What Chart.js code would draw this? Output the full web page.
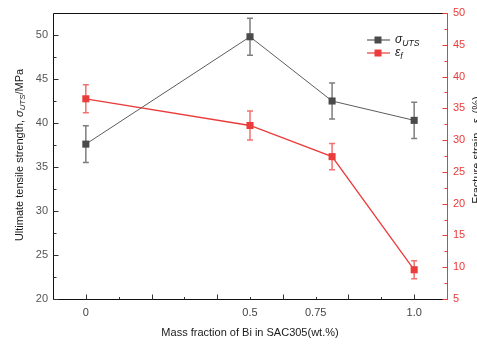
<!DOCTYPE html>
<html lang="en">
<head>
<meta charset="UTF-8">
<title>UTS and fracture strain vs Bi content</title>
<script src="https://cdn.jsdelivr.net/npm/chart.js@4"></script>
<style>
  html, body { margin: 0; padding: 0; background: #fff; }
</style>
</head>
<body>
<canvas id="chart" width="477" height="345"></canvas>
<script>
// data
const massFraction = [0, 0.5, 0.75, 1.0];
const utsMean = [37.6, 49.8, 42.5, 40.3];
const utsErr = [2.1, 2.1, 2.05, 2.05];
const strainMean = [36.5, 32.3, 27.4, 9.6];
const strainErr = [2.2, 2.3, 2.05, 1.4];

// axis ticks
const xTickValues = [0, 0.5, 0.7, 1.0];
const xTickLabels = ['0', '0.5', '0.75', '1.0'];
const xMajor = [0, 0.2, 0.4, 0.6, 0.8, 1.0];
const xMinor = [0.1, 0.3, 0.5, 0.7, 0.9];
const utsTicks = [20, 25, 30, 35, 40, 45, 50];
const utsMinor = [22.5, 27.5, 32.5, 37.5, 42.5, 47.5];
const strainTicks = [5, 10, 15, 20, 25, 30, 35, 40, 45, 50];
const strainMinor = [7.5, 12.5, 17.5, 22.5, 27.5, 32.5, 37.5, 42.5, 47.5];

const GRAY = '#4a4a4a';
const GRAY_LINE = '#5c5c5c';
const GRAY_ERR = '#7e7e7e';
const RED = '#eb3b3b';
const RED_ERR = '#f17171';
const FONT = '"Liberation Sans", Arial, sans-serif';

// draw text made of parts (italic / subscript), centred on x
function richText(ctx, parts, x, y, size, align) {
  const spans = parts.map(p => {
    const s = p.sub ? size * 0.72 : size;
    const font = (p.italic ? 'italic ' : '') + s + 'px ' + FONT;
    ctx.font = font;
    return { t: p.t, font, w: ctx.measureText(p.t).width, dy: p.sub ? size * 0.3 : 0 };
  });
  const total = spans.reduce((a, s) => a + s.w, 0);
  let cx = align === 'left' ? x : x - total / 2;
  ctx.textAlign = 'left';
  spans.forEach(s => {
    ctx.font = s.font;
    ctx.fillText(s.t, cx, y + s.dy);
    cx += s.w;
  });
}

const decor = {
  id: 'decor',
  beforeDatasetsDraw(chart) {
    const { ctx, scales } = chart;
    const xs = scales.x;
    const bars = [
      { y: scales.yUts, mean: utsMean, err: utsErr, color: GRAY_ERR },
      { y: scales.yStrain, mean: strainMean, err: strainErr, color: RED_ERR }
    ];
    ctx.save();
    ctx.lineWidth = 1.5;
    bars.forEach(b => {
      ctx.strokeStyle = b.color;
      massFraction.forEach((m, i) => {
        const px = xs.getPixelForValue(m);
        const top = b.y.getPixelForValue(b.mean[i] + b.err[i]);
        const bot = b.y.getPixelForValue(b.mean[i] - b.err[i]);
        ctx.beginPath();
        ctx.moveTo(px, top); ctx.lineTo(px, bot);
        ctx.moveTo(px - 3, top); ctx.lineTo(px + 3, top);
        ctx.moveTo(px - 3, bot); ctx.lineTo(px + 3, bot);
        ctx.stroke();
      });
    });
    ctx.restore();
  },
  afterDraw(chart) {
    const { ctx, chartArea: a, scales } = chart;
    const L = Math.round(a.left) + 0.5, R = Math.round(a.right) + 0.5;
    const T = Math.round(a.top) + 0.5, B = Math.round(a.bottom) + 0.5;
    ctx.save();
    // frame
    ctx.lineWidth = 1;
    ctx.strokeStyle = '#111';
    ctx.beginPath();
    ctx.moveTo(R, T); ctx.lineTo(L, T); ctx.lineTo(L, B); ctx.lineTo(R, B);
    ctx.stroke();
    ctx.strokeStyle = RED;
    ctx.beginPath(); ctx.moveTo(R, T); ctx.lineTo(R, B); ctx.stroke();

    // inward ticks
    ctx.strokeStyle = '#333';
    ctx.beginPath();
    xMajor.forEach(v => { const p = Math.round(scales.x.getPixelForValue(v)) + 0.5; ctx.moveTo(p, B); ctx.lineTo(p, B - 5); });
    xMinor.forEach(v => { const p = Math.round(scales.x.getPixelForValue(v)) + 0.5; ctx.moveTo(p, B); ctx.lineTo(p, B - 2.5); });
    utsTicks.forEach(v => { const p = Math.round(scales.yUts.getPixelForValue(v)) + 0.5; ctx.moveTo(L, p); ctx.lineTo(L + 5, p); });
    utsMinor.forEach(v => { const p = Math.round(scales.yUts.getPixelForValue(v)) + 0.5; ctx.moveTo(L, p); ctx.lineTo(L + 3, p); });
    ctx.stroke();
    ctx.strokeStyle = RED;
    ctx.beginPath();
    strainTicks.forEach(v => { const p = Math.round(scales.yStrain.getPixelForValue(v)) + 0.5; ctx.moveTo(R, p); ctx.lineTo(R - 5, p); });
    strainMinor.forEach(v => { const p = Math.round(scales.yStrain.getPixelForValue(v)) + 0.5; ctx.moveTo(R, p); ctx.lineTo(R - 3, p); });
    ctx.stroke();

    // axis titles
    ctx.fillStyle = '#1a1a1a';
    ctx.textBaseline = 'middle';
    richText(ctx, [{ t: 'Mass fraction of Bi in SAC305(wt.%)' }], (a.left + a.right) / 2, 333, 11);

    ctx.save();
    ctx.translate(20, 155);
    ctx.rotate(-Math.PI / 2);
    richText(ctx, [
      { t: 'Ultimate tensile strength, ' },
      { t: 'σ', italic: true },
      { t: 'UTS', italic: true, sub: true },
      { t: '/MPa' }
    ], 0, 0, 11);
    ctx.restore();

    ctx.save();
    ctx.translate(477, 150);
    ctx.rotate(-Math.PI / 2);
    richText(ctx, [
      { t: 'Fracture strain , ' },
      { t: 'ε', italic: true },
      { t: 'f', italic: true, sub: true },
      { t: ' (%)' }
    ], 0, 0, 11);
    ctx.restore();

    // legend
    const items = [
      { color: GRAY, line: GRAY_LINE, y: 40, parts: [{ t: 'σ', italic: true }, { t: 'UTS', italic: true, sub: true }] },
      { color: RED, line: RED, y: 53, parts: [{ t: 'ε', italic: true }, { t: 'f', italic: true, sub: true }] }
    ];
    items.forEach(it => {
      ctx.strokeStyle = it.line;
      ctx.lineWidth = 1.2;
      ctx.beginPath(); ctx.moveTo(367, it.y); ctx.lineTo(390, it.y); ctx.stroke();
      ctx.fillStyle = it.color;
      ctx.fillRect(374.5, it.y - 3.5, 7, 7);
      ctx.fillStyle = '#1a1a1a';
      richText(ctx, it.parts, 395, it.y, 12, 'left');
    });
    ctx.restore();
  }
};

new Chart(document.getElementById('chart'), {
  type: 'line',
  data: {
    datasets: [{
      label: 'σUTS',
      data: massFraction.map((m, i) => ({ x: m, y: utsMean[i] })),
      yAxisID: 'yUts',
      borderColor: GRAY_LINE,
      borderWidth: 1,
      backgroundColor: GRAY,
      pointBackgroundColor: GRAY,
      pointBorderWidth: 0,
      pointStyle: 'rect',
      pointRadius: 5,
      tension: 0
    }, {
      label: 'εf',
      data: massFraction.map((m, i) => ({ x: m, y: strainMean[i] })),
      yAxisID: 'yStrain',
      borderColor: RED,
      borderWidth: 1.3,
      backgroundColor: RED,
      pointBackgroundColor: RED,
      pointBorderWidth: 0,
      pointStyle: 'rect',
      pointRadius: 5,
      tension: 0
    }]
  },
  options: {
    responsive: false,
    animation: false,
    layout: { padding: { top: 13, left: 0, right: 0, bottom: 0 } },
    plugins: { legend: { display: false }, tooltip: { enabled: false } },
    scales: {
      x: {
        type: 'linear',
        min: -0.1,
        max: 1.1,
        grid: { display: false, drawTicks: false },
        border: { display: false },
        afterBuildTicks: s => { s.ticks = xTickValues.map(v => ({ value: v })); },
        afterFit: s => { s.height = 46; },
        ticks: {
          padding: 7,
          color: '#444',
          font: { family: FONT, size: 11 },
          maxRotation: 0,
          callback: (v, i) => xTickLabels[i]
        }
      },
      yUts: {
        position: 'left',
        min: 20,
        max: 52.5,
        grid: { display: false, drawTicks: false },
        border: { display: false },
        afterBuildTicks: s => { s.ticks = utsTicks.map(v => ({ value: v })); },
        afterFit: s => { s.width = 53; },
        ticks: { padding: 5, color: '#555', font: { family: FONT, size: 11 } }
      },
      yStrain: {
        position: 'right',
        min: 5,
        max: 50,
        grid: { display: false, drawTicks: false },
        border: { display: false },
        afterBuildTicks: s => { s.ticks = strainTicks.map(v => ({ value: v })); },
        afterFit: s => { s.width = 30; },
        ticks: { padding: 6, color: RED, font: { family: FONT, size: 11 } }
      }
    }
  },
  plugins: [decor]
});
</script>
</body>
</html>
